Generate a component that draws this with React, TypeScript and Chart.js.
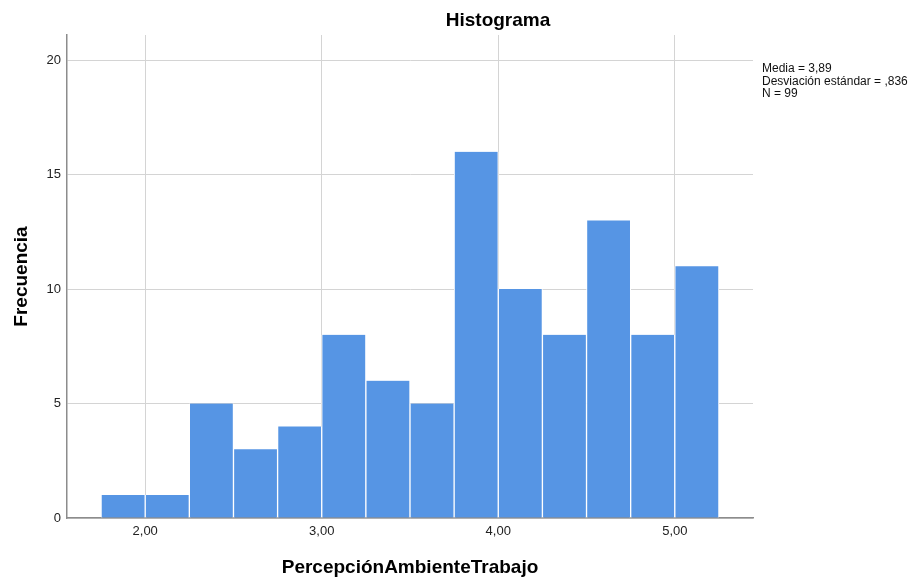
import React, { useEffect, useRef } from 'react';
import { Chart, registerables } from 'chart.js';

Chart.register(...registerables);

// Histogram bins (lower edges) and counts
const binStarts = [1.75, 2.0, 2.25, 2.5, 2.75, 3.0, 3.25, 3.5, 3.75, 4.0, 4.25, 4.5, 4.75, 5.0];
const binWidth = 0.25;
const frequencies = [1, 1, 5, 3, 4, 8, 6, 5, 16, 10, 8, 13, 8, 11];
const xTickValues = [2, 3, 4, 5];
const yTickValues = [0, 5, 10, 15, 20];
const statsLines = ['Media = 3,89', 'Desviación estándar = ,836', 'N = 99'];
const chartTitle = 'Histograma';
const xTitle = 'PercepciónAmbienteTrabajo';
const yTitle = 'Frecuencia';

const FONT = '"Liberation Sans", Arial, sans-serif';

const textPlugin = {
  id: 'spssText',
  afterDraw(chart: any) {
    const ctx = chart.ctx;
    const area = chart.chartArea;
    ctx.save();
    ctx.fillStyle = '#000';
    ctx.font = `bold 19px ${FONT}`;
    ctx.textAlign = 'center';
    ctx.textBaseline = 'alphabetic';
    ctx.fillText(chartTitle, 498, 26);
    ctx.fillText(xTitle, (area.left + area.right) / 2, 573);
    ctx.save();
    ctx.translate(27, (area.top + area.bottom) / 2);
    ctx.rotate(-Math.PI / 2);
    ctx.fillText(yTitle, 0, 0);
    ctx.restore();
    ctx.font = `12px ${FONT}`;
    ctx.textAlign = 'left';
    ctx.fillStyle = '#111';
    statsLines.forEach((line, i) => {
      ctx.fillText(line, area.right + 9, 72 + i * 12.5);
    });
    ctx.restore();
  },
};

export default function App() {
  const canvasRef = useRef<HTMLCanvasElement | null>(null);

  useEffect(() => {
    if (!canvasRef.current) return;
    const data = binStarts.map((s, i) => ({ x: s + binWidth / 2, y: frequencies[i] }));
    const chart = new Chart(canvasRef.current, {
      type: 'bar',
      data: {
        datasets: [
          {
            data: data as any,
            backgroundColor: 'rgb(86,149,228)',
            borderColor: '#ffffff',
            borderWidth: { left: 1, right: 1, top: 0, bottom: 0 } as any,
            borderSkipped: false as any,
            barPercentage: 1,
            categoryPercentage: 1,
          },
        ],
      },
      options: {
        responsive: false,
        animation: false,
        layout: { padding: { top: 35, right: 167, left: 0, bottom: 0 } },
        plugins: {
          legend: { display: false },
          title: { display: false },
          tooltip: { enabled: false },
        },
        scales: {
          x: {
            type: 'linear',
            min: 1.557,
            max: 5.443,
            offset: false,
            z: 1,
            afterFit: (s: any) => {
              s.height = 59;
            },
            afterBuildTicks: (s: any) => {
              s.ticks = xTickValues.map((v) => ({ value: v }));
            },
            grid: { color: '#d4d4d4', lineWidth: 1, drawTicks: false, offset: false },
            border: { display: true, color: '#8c8c8c', width: 1.5 },
            ticks: {
              padding: 6,
              color: '#222',
              font: { family: FONT, size: 13 },
              callback: (v: any) => Number(v).toFixed(2).replace('.', ','),
            },
          },
          y: {
            type: 'linear',
            min: 0,
            max: 21.1,
            afterFit: (s: any) => {
              s.width = 67;
            },
            afterBuildTicks: (s: any) => {
              s.ticks = yTickValues.map((v) => ({ value: v }));
            },
            grid: { color: '#d4d4d4', lineWidth: 1, drawTicks: false },
            border: { display: true, color: '#8c8c8c', width: 1.5 },
            ticks: {
              padding: 6,
              color: '#222',
              font: { family: FONT, size: 13 },
              callback: (v: any) => String(v),
            },
          },
        },
      },
      plugins: [textPlugin],
    });
    return () => chart.destroy();
  }, []);

  return (
    <div style={{ position: 'fixed', left: 0, top: 0, width: 920, height: 577, background: '#fff' }}>
      <canvas ref={canvasRef} width={920} height={577} style={{ width: 920, height: 577 }} />
    </div>
  );
}
